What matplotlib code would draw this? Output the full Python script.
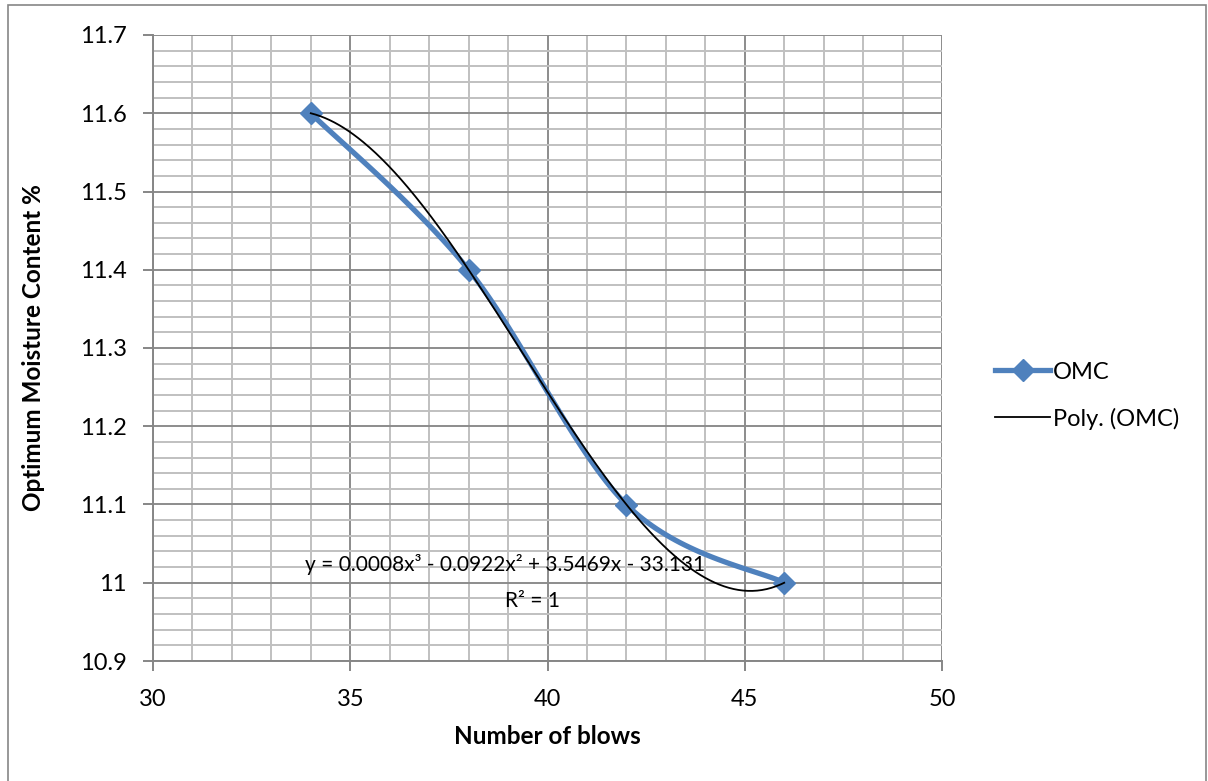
import matplotlib
matplotlib.use("Agg")
import matplotlib.pyplot as plt
import numpy as np
from matplotlib.ticker import MultipleLocator
from matplotlib.patches import Rectangle

# data
blows = [34, 38, 42, 46]
omc = [11.6, 11.4, 11.1, 11.0]
eq_text = "y = 0.0008x³ - 0.0922x² + 3.5469x - 33.131"
r2_text = "R² = 1"

plt.rcParams['font.family'] = ['Lato', 'DejaVu Sans']


def smooth(xs, ys, n=40):
    # excel-like smoothed line (cardinal bezier between points)
    xs = np.asarray(xs, float)
    ys = np.asarray(ys, float)
    px = np.concatenate([[xs[0]], xs, [xs[-1]]])
    py = np.concatenate([[ys[0]], ys, [ys[-1]]])
    outx, outy = [], []
    t = np.linspace(0, 1, n)
    for i in range(1, len(px) - 2):
        p0 = np.array([px[i], py[i]])
        p3 = np.array([px[i + 1], py[i + 1]])
        p1 = p0 + (np.array([px[i + 1], py[i + 1]]) - np.array([px[i - 1], py[i - 1]])) / 6
        p2 = p3 - (np.array([px[i + 2], py[i + 2]]) - np.array([px[i], py[i]])) / 6
        b = ((1 - t) ** 3)[:, None] * p0 + (3 * (1 - t) ** 2 * t)[:, None] * p1 \
            + (3 * (1 - t) * t ** 2)[:, None] * p2 + (t ** 3)[:, None] * p3
        outx.extend(b[:, 0])
        outy.extend(b[:, 1])
    return outx, outy


fig = plt.figure(figsize=(12.08, 7.81), dpi=100)
ax = fig.add_axes([153 / 1208, 1 - 661 / 781, (942 - 153) / 1208, (661 - 35) / 781])

# outer chart border
fig.patches.append(Rectangle((8 / 1208, -0.01), (1206 - 8) / 1208, 1 - 5 / 781 + 0.01,
                             transform=fig.transFigure, fill=False, ec='#868686', lw=1.2))

ax.set_xlim(30, 50)
ax.set_ylim(10.9, 11.7)
ax.xaxis.set_major_locator(MultipleLocator(5))
ax.xaxis.set_minor_locator(MultipleLocator(1))
ax.yaxis.set_major_locator(MultipleLocator(0.1))
ax.yaxis.set_minor_locator(MultipleLocator(0.02))
ax.grid(which='minor', color='#c0c0c0', lw=1.4)
ax.grid(which='major', color='#8c8c8c', lw=1.4)
ax.set_axisbelow(True)
for s in ['top', 'right']:
    ax.spines[s].set_visible(False)
for s in ['left', 'bottom']:
    ax.spines[s].set_color('#868686')
    ax.spines[s].set_linewidth(1.4)
ax.tick_params(which='major', length=7, width=1.4, color='#868686', labelsize=17)
ax.tick_params(which='minor', length=0)
ax.tick_params(axis='x', pad=13)
ax.tick_params(axis='y', pad=12)
ax.yaxis.set_major_formatter(plt.FuncFormatter(lambda v, p: ('%.1f' % v).rstrip('0').rstrip('.')))

sx, sy = smooth(blows, omc)
ax.plot(sx, sy, color='#4F81BD', lw=3.8, solid_capstyle='round', zorder=3)
ax.plot(blows, omc, ls='none', marker='D', ms=11, color='#4F81BD', zorder=4)
leg_line, = ax.plot([], [], color='#4F81BD', lw=3.8, marker='D', ms=11, label='OMC')

coef = np.polyfit(blows, omc, 3)
xf = np.linspace(blows[0], blows[-1], 300)
poly_line, = ax.plot(xf, np.polyval(coef, xf), color='black', lw=1.3, zorder=5, label='Poly. (OMC)')

ax.text(38.92, 11.0227, eq_text, ha='center', va='center', fontsize=15)
ax.text(39.63, 10.9767, r2_text, ha='center', va='center', fontsize=15)

ax.set_xlabel('Number of blows', fontsize=17.5, fontweight='bold')
ax.set_ylabel('Optimum Moisture Content %', fontsize=17.5, fontweight='bold')
ax.xaxis.set_label_coords(0.5, -0.102)
ax.yaxis.set_label_coords(-0.152, 0.5)
ax.yaxis.label.set_va('center')

ax.legend(handles=[leg_line, poly_line], loc='upper left', bbox_to_anchor=(1.04, 0.512),
          frameon=False, fontsize=17, handlelength=2.35, handletextpad=0.1, labelspacing=1.05)

fig.savefig('out.png', dpi=100)
